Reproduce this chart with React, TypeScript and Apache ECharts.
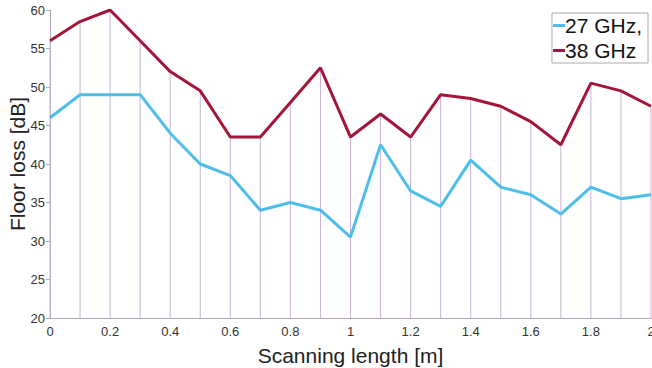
import React, { useEffect, useRef } from "react";
import * as echarts from "echarts";

const xValues = [0, 0.1, 0.2, 0.3, 0.4, 0.5, 0.6, 0.7, 0.8, 0.9, 1.0, 1.1, 1.2, 1.3, 1.4, 1.5, 1.6, 1.7, 1.8, 1.9, 2.0];
const loss27 = [46, 49, 49, 49, 44, 40, 38.5, 34, 35, 34, 30.5, 42.5, 36.5, 34.5, 40.5, 37, 36, 33.5, 37, 35.5, 36];
const loss38 = [56, 58.5, 60, 56, 52, 49.5, 43.5, 43.5, 48, 52.5, 43.5, 46.5, 43.5, 49, 48.5, 47.5, 45.5, 42.5, 50.5, 49.5, 47.5];
const seriesNames = ["27 GHz,", "38 GHz"];

export default function App() {
  const ref = useRef<HTMLDivElement>(null);
  useEffect(() => {
    if (!ref.current) return;
    const chart = echarts.init(ref.current, null, { renderer: "svg" });
    const font = "'Liberation Sans', Arial, sans-serif";
    chart.setOption({
      animation: false,
      grid: { left: 50, right: 1, top: 10, bottom: 50, containLabel: false, outerBoundsMode: "none" },
      legend: {
        data: seriesNames,
        orient: "vertical",
        right: 4,
        top: 13,
        itemWidth: 12,
        itemHeight: 3,
        itemGap: 4,
        icon: "rect",
        borderColor: "#aaaaaa",
        borderWidth: 1,
        padding: [2, 6, 2, 1],
        textStyle: { fontSize: 21, color: "#111", fontFamily: font, padding: [0, 0, 0, -5] },
      },
      xAxis: {
        type: "value",
        min: 0,
        max: 2,
        interval: 0.2,
        name: "Scanning length [m]",
        nameLocation: "middle",
        nameGap: 27,
        nameMoveOverlap: false,
        nameTextStyle: { fontSize: 21, color: "#222", fontFamily: font },
        axisLine: { lineStyle: { color: "#b0a8b8" } },
        axisTick: { show: false },
        splitLine: { show: false },
        axisLabel: { fontSize: 13, color: "#333", fontFamily: font, margin: 7 },
      },
      yAxis: {
        type: "value",
        min: 20,
        max: 60,
        interval: 5,
        name: "Floor loss [dB]",
        nameLocation: "middle",
        nameGap: 22,
        nameMoveOverlap: false,
        nameTextStyle: { fontSize: 21, color: "#222", fontFamily: font },
        axisLine: { show: true, lineStyle: { color: "#b0a8b8" } },
        axisTick: { show: true, length: 4, lineStyle: { color: "#b0a8b8" } },
        splitLine: { show: false },
        axisLabel: { fontSize: 13, color: "#333", fontFamily: font, margin: 5 },
      },
      series: [
        {
          name: "stems",
          type: "bar",
          barWidth: 1,
          data: xValues.map((x, i) => [x, loss38[i]]),
          itemStyle: { color: "#c9b3d3" },
          z: 1,
          silent: true,
        },
        {
          name: seriesNames[0],
          type: "line",
          data: xValues.map((x, i) => [x, loss27[i]]),
          lineStyle: { color: "#4dbde9", width: 3 },
          itemStyle: { color: "#4dbde9" },
          symbol: "none",
          z: 3,
        },
        {
          name: seriesNames[1],
          type: "line",
          data: xValues.map((x, i) => [x, loss38[i]]),
          lineStyle: { color: "#a3163a", width: 3 },
          itemStyle: { color: "#a3163a" },
          symbol: "none",
          z: 3,
        },
      ],
    });
    return () => chart.dispose();
  }, []);
  return <div ref={ref} style={{ width: 652, height: 368, position: "absolute", left: 0, top: 0, background: "#fff" }} />;
}
